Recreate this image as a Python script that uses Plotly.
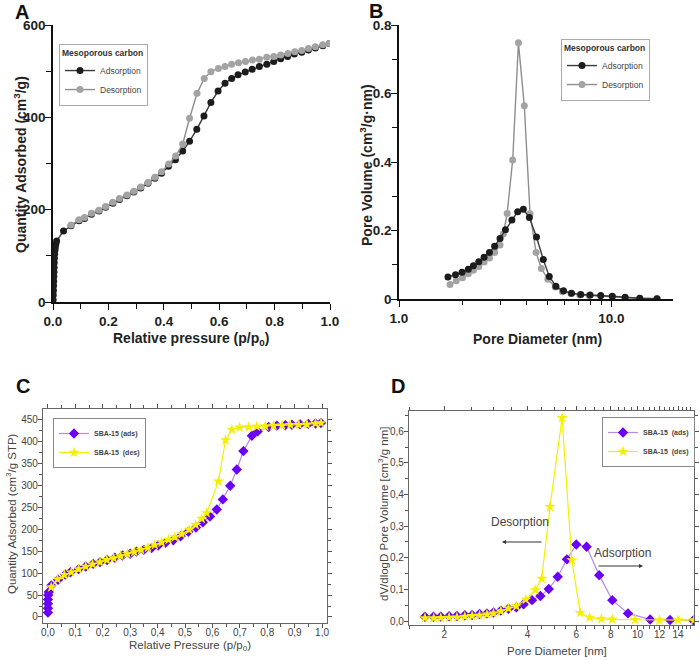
import plotly.graph_objects as go

# ---------------- Panel A data (Mesoporous carbon isotherm) ----------------
a_ads_x = [0.0005, 0.001, 0.0015, 0.002, 0.0025, 0.003, 0.0035, 0.004, 0.0045, 0.005,
           0.006, 0.007, 0.008, 0.010, 0.013, 0.038, 0.065, 0.094, 0.114, 0.139, 0.166,
           0.19, 0.216, 0.24, 0.267, 0.292, 0.317, 0.343, 0.368, 0.392, 0.417, 0.442,
           0.468, 0.493, 0.519, 0.545, 0.57, 0.596, 0.621, 0.645, 0.668, 0.694, 0.719,
           0.745, 0.772, 0.797, 0.822, 0.847, 0.871, 0.898, 0.922, 0.947, 0.974, 0.998]
a_ads_y = [5, 15, 25, 35, 45, 55, 65, 75, 85, 95, 104, 112, 118, 125, 132, 154, 165, 176,
           181, 190, 197, 205, 214, 222, 230, 238, 247, 257, 268, 279, 294, 308, 327, 348,
           374, 403, 432, 457, 474, 484, 492, 498, 504, 510, 515, 521, 527, 532, 537, 541,
           546, 550, 555, 560]
a_des_x = [0.998, 0.974, 0.947, 0.922, 0.898, 0.873, 0.848, 0.822, 0.797, 0.772, 0.745,
           0.72, 0.695, 0.67, 0.645, 0.621, 0.597, 0.57, 0.546, 0.52, 0.493, 0.468, 0.443,
           0.418, 0.392, 0.368, 0.343, 0.317, 0.292, 0.267, 0.24, 0.216, 0.19, 0.166,
           0.139, 0.114, 0.094, 0.065]
a_des_y = [560, 557, 553, 549, 545, 542, 538, 535, 532, 530, 526, 524, 521, 518, 515, 510,
           506, 499, 484, 452, 398, 342, 316, 299, 282, 270, 259, 249, 240, 232, 224, 216,
           207, 199, 192, 183, 178, 167]

# ---------------- Panel B data (Mesoporous carbon PSD) ----------------
b_ads_x = [1.70, 1.845, 1.98, 2.12, 2.24, 2.375, 2.515, 2.665, 2.82, 2.99, 3.17, 3.40,
           3.62, 3.85, 4.11, 4.44, 4.78, 5.10, 5.48, 5.95, 6.49, 7.18, 7.94, 8.91, 10.1,
           11.6, 13.6, 16.4]
b_ads_y = [0.064, 0.071, 0.078, 0.087, 0.097, 0.109, 0.122, 0.136, 0.154, 0.177, 0.202,
           0.231, 0.255, 0.262, 0.238, 0.181, 0.115, 0.066, 0.037, 0.024, 0.017, 0.013,
           0.012, 0.010, 0.008, 0.005, 0.002, 0.001]
b_des_x = [1.74, 1.86, 1.99, 2.12, 2.24, 2.375, 2.515, 2.665, 2.82, 2.99, 3.10, 3.23,
           3.43, 3.65, 3.89, 4.14, 4.42, 4.68, 5.02, 5.44, 5.88, 6.45, 7.1, 7.85, 8.9,
           10.1, 11.6, 13.6, 16.4]
b_des_y = [0.042, 0.053, 0.062, 0.074, 0.084, 0.095, 0.108, 0.120, 0.136, 0.158, 0.19,
           0.25, 0.406, 0.748, 0.564, 0.249, 0.136, 0.089, 0.058, 0.035, 0.021, 0.016,
           0.012, 0.010, 0.008, 0.006, 0.004, 0.002, 0.001]

# ---------------- Panel C data (SBA-15 isotherm) ----------------
c_ads_x = [0.0, 0.0, 0.0, 0.0, 0.001, 0.003, 0.012, 0.037, 0.063, 0.082, 0.112, 0.138,
           0.165, 0.19, 0.216, 0.244, 0.272, 0.30, 0.323, 0.35, 0.378, 0.402, 0.429,
           0.457, 0.484, 0.512, 0.54, 0.565, 0.591, 0.616, 0.638, 0.665, 0.689, 0.713,
           0.744, 0.765, 0.805, 0.835, 0.866, 0.89, 0.92, 0.95, 0.976, 0.996]
c_ads_y = [10, 20, 30, 40, 50, 57, 72, 85, 97, 102, 109, 115, 121, 125, 130, 135, 140,
           144, 149, 153, 157, 163, 169, 175, 184, 194, 204, 216, 229, 245, 268, 299,
           336, 378, 413, 423, 433, 436, 437, 438, 439, 440, 441, 442]
c_des_x = [0.996, 0.976, 0.945, 0.915, 0.884, 0.854, 0.823, 0.793, 0.762, 0.732, 0.699,
           0.671, 0.648, 0.622, 0.579, 0.561, 0.539, 0.515, 0.488, 0.463, 0.44, 0.415,
           0.39, 0.365, 0.34, 0.315, 0.29, 0.265, 0.24, 0.215, 0.19, 0.163, 0.138, 0.112,
           0.085, 0.06, 0.035, 0.012]
c_des_y = [442, 441, 439, 438, 438, 437, 436, 435, 434, 433, 432, 427, 403, 309, 237,
           224, 210, 199, 189, 182, 176, 170, 164, 158, 153, 148, 144, 139, 134, 130, 125,
           120, 115, 109, 102, 96, 86, 68]

# ---------------- Panel D data (SBA-15 PSD) ----------------
d_ads_x = [1.70, 1.826, 1.94, 2.08, 2.22, 2.37, 2.52, 2.68, 2.85, 3.01, 3.2, 3.41, 3.64,
           3.87, 4.15, 4.45, 4.77, 5.14, 5.55, 6.0, 6.54, 7.26, 8.1, 9.23, 11.1, 13.1, 15.9]
d_ads_y = [0.0137, 0.0137, 0.014, 0.015, 0.016, 0.018, 0.019, 0.022, 0.024, 0.027, 0.033,
           0.039, 0.043, 0.053, 0.066, 0.079, 0.101, 0.14, 0.195, 0.242, 0.235, 0.145,
           0.066, 0.024, 0.005, 0.003, 0.002]
d_des_x = [1.70, 1.83, 1.94, 2.08, 2.22, 2.37, 2.52, 2.68, 2.85, 3.01, 3.2, 3.41, 3.64,
           3.94, 4.26, 4.50, 4.82, 5.33, 5.78, 6.2, 6.7, 7.4, 8.1, 9.8, 12.0, 14.0, 16.0]
d_des_y = [0.0095, 0.0095, 0.010, 0.011, 0.012, 0.014, 0.016, 0.018, 0.021, 0.024, 0.031,
           0.040, 0.047, 0.068, 0.098, 0.134, 0.361, 0.642, 0.193, 0.026, 0.011, 0.007,
           0.005, 0.004, 0.003, 0.003, 0.003]

c_ticks = [0.0, 0.1, 0.2, 0.3, 0.4, 0.5, 0.6, 0.7, 0.8, 0.9, 1.0]
c_ticktext = ["0,0", "0,1", "0,2", "0,3", "0,4", "0,5", "0,6", "0,7", "0,8", "0,9", "1,0"]
d_yticks = [0.0, 0.1, 0.2, 0.3, 0.4, 0.5, 0.6]
d_yticktext = ["0,0", "0,1", "0,2", "0,3", "0,4", "0,5", "0,6"]
d_xticks = [2, 4, 6, 8, 10, 12, 14, 16]

FONT = "Liberation Sans, Arial, sans-serif"
W, H = 700, 660

def px(x):
    return x / W

def py(y):
    return 1 - y / H

fig = go.Figure()

ADS_AB = dict(line=dict(color="#3a3a3a", width=1.4),
              marker=dict(symbol="circle", size=7, color="#1c1c1c"))
DES_AB = dict(line=dict(color="#8e8e8e", width=1.4),
              marker=dict(symbol="circle", size=7, color="#a3a3a3"))
ADS_CD = dict(line=dict(color="#b68ce8", width=1.2),
              marker=dict(symbol="diamond", size=8, color="#6a00f5"))
DES_CD = dict(line=dict(color="#f2f000", width=1.2),
              marker=dict(symbol="star", size=8.5, color="#f5f000"))

# ---- traces ----
fig.add_trace(go.Scatter(x=a_ads_x, y=a_ads_y, mode="lines+markers", name="Adsorption",
                         xaxis="x", yaxis="y", legend="legend", **ADS_AB))
fig.add_trace(go.Scatter(x=a_des_x, y=a_des_y, mode="lines+markers", name="Desorption",
                         xaxis="x", yaxis="y", legend="legend", **DES_AB))
fig.add_trace(go.Scatter(x=b_des_x, y=b_des_y, mode="lines+markers", name="Desorption",
                         xaxis="x2", yaxis="y2", legend="legend2", showlegend=False, **DES_AB))
fig.add_trace(go.Scatter(x=b_ads_x, y=b_ads_y, mode="lines+markers", name="Adsorption",
                         xaxis="x2", yaxis="y2", legend="legend2", **ADS_AB))
fig.add_trace(go.Scatter(x=[None], y=[None], mode="lines+markers", name="Desorption",
                         xaxis="x2", yaxis="y2", legend="legend2", **DES_AB))
fig.add_trace(go.Scatter(x=c_ads_x, y=c_ads_y, mode="lines+markers", name="SBA-15 (ads)",
                         xaxis="x3", yaxis="y3", legend="legend3", **ADS_CD))
fig.add_trace(go.Scatter(x=c_des_x, y=c_des_y, mode="lines+markers", name="SBA-15  (des)",
                         xaxis="x3", yaxis="y3", legend="legend3", **DES_CD))
fig.add_trace(go.Scatter(x=d_ads_x, y=d_ads_y, mode="lines+markers", name="SBA-15  (ads)",
                         xaxis="x4", yaxis="y4", legend="legend4", **ADS_CD))
fig.add_trace(go.Scatter(x=d_des_x, y=d_des_y, mode="lines+markers", name="SBA-15  (des)",
                         xaxis="x4", yaxis="y4", legend="legend4", **DES_CD))

# ---- axes ----
tick_ab = dict(family=FONT, size=13.5, color="#222", weight="bold")
tick_cd = dict(family=FONT, size=10, color="#444")
AX_AB = dict(showline=True, linecolor="#111", linewidth=1.5, showgrid=False, zeroline=False,
             ticks="outside", ticklen=6, tickwidth=1.3, tickcolor="#111", tickfont=tick_ab,
             automargin=False)
AX_AB_TOP = dict(showline=True, linecolor="#111", linewidth=1.5, showgrid=False,
                 zeroline=False, ticks="inside", ticklen=6, tickwidth=1.3, tickcolor="#111",
                 showticklabels=False, automargin=False)
AX_CD = dict(showline=True, linecolor="#666", linewidth=1.2, showgrid=False, zeroline=False,
             ticks="outside", ticklen=4, tickwidth=1, tickcolor="#555", mirror="ticks",
             tickfont=tick_cd, automargin=False)

dA_x = [px(53), px(330)]
dA_y = [py(302), py(25)]
dB_x = [px(399), px(673)]
dB_y = [py(299), py(25)]
dC_x = [px(43), px(327)]
dC_y = [py(623), py(409)]
dD_x = [px(409), px(694)]
dD_y = [py(625), py(411)]

fig.update_layout(
    xaxis=dict(domain=dA_x, anchor="y", range=[0, 1], dtick=0.2, tickformat=".1f",
               ticklabelstandoff=0,
               minor=dict(dtick=0.1, ticks="outside", ticklen=5, tickcolor="#111"), **AX_AB),
    yaxis=dict(domain=dA_y, anchor="x", range=[0, 600], dtick=200, ticklabelstandoff=-3,
               minor=dict(dtick=100, ticks="outside", ticklen=5, tickcolor="#111"), **AX_AB),
    xaxis5=dict(domain=dA_x, anchor="y", overlaying="x", side="top", range=[0, 1],
                dtick=0.1, **AX_AB_TOP),
    yaxis5=dict(domain=dA_y, anchor="x", overlaying="y", side="right", range=[0, 600],
                dtick=100, **AX_AB_TOP),
    xaxis2=dict(domain=dB_x, anchor="y2", type="log", range=[0, 1.29],
                tickvals=[1, 10], ticktext=["1.0", "10.0"], ticklabelstandoff=0,
                minor=dict(tickvals=[2, 3, 4, 5, 6, 7, 8, 9, 20], ticks="outside",
                           ticklen=4, tickcolor="#111"), **AX_AB),
    yaxis2=dict(domain=dB_y, anchor="x2", range=[0, 0.8], ticklabelstandoff=-3,
                tickvals=[0, 0.2, 0.4, 0.6, 0.8], ticktext=["0", "0.2", "0.4", "0.6", "0.8"],
                minor=dict(dtick=0.1, ticks="outside", ticklen=5, tickcolor="#111"), **AX_AB),
    xaxis6=dict(domain=dB_x, anchor="y2", overlaying="x2", side="top", type="log",
                range=[0, 1.29], tickvals=[2, 3, 4, 5, 6, 7, 8, 9, 10, 20], **AX_AB_TOP),
    yaxis6=dict(domain=dB_y, anchor="x2", overlaying="y2", side="right", range=[0, 0.8],
                dtick=0.1, **AX_AB_TOP),
    xaxis3=dict(domain=dC_x, anchor="y3", range=[-0.018, 1.018], tickvals=c_ticks,
                ticktext=c_ticktext, ticklabelstandoff=-4,
                minor=dict(dtick=0.05, ticks="outside", ticklen=2.5, tickcolor="#555"), **AX_CD),
    yaxis3=dict(domain=dC_y, anchor="x3", range=[-13.7, 474], dtick=50, ticklabelstandoff=-2,
                minor=dict(dtick=25, ticks="outside", ticklen=2.5, tickcolor="#555"), **AX_CD),
    xaxis4=dict(domain=dD_x, anchor="y4", type="log", range=[0.173, 1.204],
                tickvals=d_xticks, ticktext=[str(v) for v in d_xticks], ticklabelstandoff=-4,
                minor=dict(tickvals=[1.5, 2.5, 3, 3.5, 4.5, 5, 5.5, 6.5, 7, 7.5, 8.5, 9, 9.5,
                                     10.5, 11, 11.5, 12.5, 13, 13.5, 14.5, 15, 15.5],
                           ticks="outside", ticklen=2.5, tickcolor="#555"), **AX_CD),
    yaxis4=dict(domain=dD_y, anchor="x4", range=[-0.0126, 0.664], tickvals=d_yticks,
                ticktext=d_yticktext, ticklabelstandoff=-2,
                minor=dict(dtick=0.05, ticks="outside", ticklen=2.5, tickcolor="#555"), **AX_CD),
)

# ---- legends ----
leg_ab = dict(bgcolor="white", bordercolor="#aaa", borderwidth=1, xanchor="left",
              yanchor="top", font=dict(family=FONT, size=8.5, color="#444"),
              tracegroupgap=0, itemwidth=30,
              title=dict(text="<b>Mesoporous carbon</b>",
                         font=dict(family=FONT, size=8.5, color="#333")))
leg_cd = dict(bgcolor="white", bordercolor="#888", borderwidth=1, xanchor="left",
              yanchor="top", font=dict(family=FONT, size=7, color="#444", weight="bold"),
              tracegroupgap=0, itemwidth=30)
fig.update_layout(
    legend=dict(x=px(59), y=py(44), **leg_ab),
    legend2=dict(x=px(561), y=py(39), **leg_ab),
    legend3=dict(x=px(53), y=py(418), **leg_cd),
    legend4=dict(x=px(602), y=py(417), **leg_cd),
)

# ---- titles & annotations ----
ann = []
def add_text(text, x, y, size, color="#111", bold=False, angle=0, family=FONT):
    ann.append(dict(text=text, x=px(x), y=py(y), xref="paper", yref="paper",
                    showarrow=False, textangle=angle, xanchor="center", yanchor="middle",
                    font=dict(family=family, size=size, color=color,
                              weight="bold" if bold else "normal")))

add_text("A", 22, 12, 20, bold=True)
add_text("B", 376, 11, 20, bold=True)
add_text("C", 23, 386, 20, bold=True)
add_text("D", 398, 386, 20, bold=True)

add_text("Quantity Adsorbed (cm<sup>3</sup>/g)", 20, 165, 14, color="#222", bold=True, angle=-90)
add_text("Relative pressure (p/p<sub>0</sub>)", 191, 339, 14, color="#222", bold=True)
add_text("Pore Volume (cm<sup>3</sup>/g·nm)", 366, 165, 14, color="#222", bold=True, angle=-90)
add_text("Pore Diameter (nm)", 537, 339, 14, color="#222", bold=True)

add_text("Quantity Adsorbed (cm<sup>3</sup>/g STP)", 11, 514, 11.5, color="#444", angle=-90)
add_text("Relative Pressure (p/p<sub>0</sub>)", 190, 646, 11.5, color="#444")
add_text("dV/dlogD Pore Volume [cm<sup>3</sup>/g nm]", 383, 514, 11.5, color="#444", angle=-90)
add_text("Pore Diameter [nm]", 557, 651, 11.5, color="#444")

add_text("Desorption", 520, 522, 12, color="#444")
add_text("Adsorption", 622, 553, 12, color="#444")

ann.append(dict(x=px(502), y=py(542), ax=41, ay=0, xref="paper", yref="paper",
                axref="pixel", ayref="pixel", text="", showarrow=True, arrowhead=2,
                arrowsize=0.8, arrowwidth=1, arrowcolor="#333"))
ann.append(dict(x=px(643), y=py(566), ax=-46, ay=0, xref="paper", yref="paper",
                axref="pixel", ayref="pixel", text="", showarrow=True, arrowhead=2,
                arrowsize=0.8, arrowwidth=1, arrowcolor="#333"))

fig.update_layout(annotations=ann, width=W, height=H,
                  margin=dict(l=0, r=0, t=0, b=0, autoexpand=False),
                  paper_bgcolor="white", plot_bgcolor="white",
                  font=dict(family=FONT))

# remove the browser's default 8 px page margin so the figure fills the window
fig.write_html("out.html", config={"displayModeBar": False},
               post_script="document.body.style.margin='0px';")
